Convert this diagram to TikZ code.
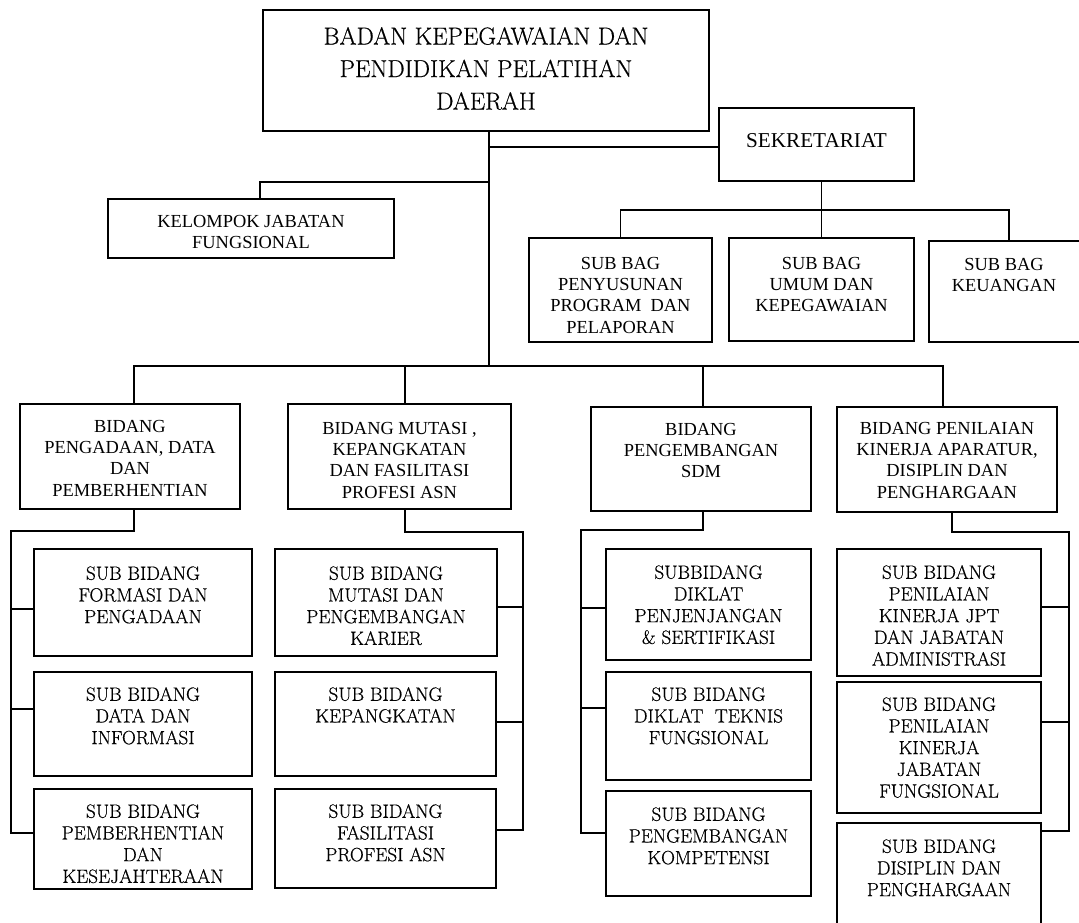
\documentclass[tikz,border=0pt]{standalone}
\usepackage{fontspec}
\newfontfamily\tnr{Liberation Serif}
\newfontfamily\lmh{Latin Modern Roman}[FakeBold=0.5]
\tikzset{
  ubox/.style={draw, line width=1.4pt, rectangle, inner sep=0pt, outer sep=0pt},
  lmt/.style={align=center, inner sep=0pt, font=\lmh\fontsize{19.2pt}{21.7pt}\selectfont},
  tnt/.style={align=center, inner sep=0pt, font=\tnr\fontsize{18.4pt}{21.3pt}\selectfont},
  toptxt/.style={align=center, inner sep=0pt, font=\lmh\fontsize{24.5pt}{32.5pt}\selectfont},
  sektxt/.style={align=center, inner sep=0pt, font=\tnr\fontsize{21.2pt}{24pt}\selectfont},
  conn/.style={line width=1.3pt},
}
\newcommand\ubox[5]{\node[ubox, minimum width={(#4-#2)*1pt}, minimum height={(#5-#3)*1pt}] (#1) at ({(#2+#4)/2},{(#3+#5)/2}) {};}
\newcommand\utxt[4]{\node[#2, anchor=north] (#1t) at (#1.north |- 0,#3) {#4};}
\begin{document}
\begin{tikzpicture}[x=1pt, y=-1pt]
\useasboundingbox (0,0) rectangle (1079,923);
% boxes
\ubox{top}{263}{10}{709}{131}
\ubox{sek}{719}{108}{914}{181}
\ubox{kel}{108}{199}{394}{258}
\ubox{sb1}{529}{238}{712}{342}
\ubox{sb2}{729}{238}{914}{341}
\ubox{sb3}{929}{241}{1089}{342}
\ubox{bid1}{20}{404}{240}{509}
\ubox{bid2}{288}{404}{511}{509}
\ubox{bid3}{591}{407}{811}{511}
\ubox{bid4}{837}{407}{1057}{512}
\ubox{s11}{34}{549}{252}{656}
\ubox{s12}{34}{672}{252}{776}
\ubox{s13}{34}{789}{252}{889}
\ubox{s21}{275}{549}{497}{656}
\ubox{s22}{275}{672}{496}{776}
\ubox{s23}{275}{789}{496}{888}
\ubox{s31}{606}{549}{811}{660}
\ubox{s32}{606}{672}{811}{780}
\ubox{s33}{606}{791}{811}{896}
\ubox{s41}{837}{549}{1041}{676}
\ubox{s42}{837}{682}{1041}{813}
\ubox{s43}{837}{823}{1041}{930}
% texts
\utxt{top}{toptxt}{27}{BADAN KEPEGAWAIAN DAN\\PENDIDIKAN PELATIHAN\\DAERAH}
\utxt{sek}{sektxt}{133}{SEKRETARIAT}
\utxt{kel}{tnt}{215}{KELOMPOK JABATAN\\FUNGSIONAL}
\utxt{sb1}{tnt}{257}{SUB BAG\\PENYUSUNAN\\PROGRAM\ \ DAN\\PELAPORAN}
\utxt{sb2}{tnt}{257}{SUB BAG\\UMUM DAN\\KEPEGAWAIAN}
\node[tnt, anchor=north] (sb3t) at (1004,258) {SUB BAG\\KEUANGAN};
\utxt{bid1}{tnt}{420}{BIDANG\\PENGADAAN, DATA\\DAN\\PEMBERHENTIAN}
\utxt{bid2}{tnt}{422}{BIDANG MUTASI ,\\KEPANGKATAN\\DAN FASILITASI\\PROFESI ASN}
\utxt{bid3}{tnt}{423}{BIDANG\\PENGEMBANGAN\\SDM}
\utxt{bid4}{tnt}{422}{BIDANG PENILAIAN\\KINERJA APARATUR,\\DISIPLIN DAN\\PENGHARGAAN}
\utxt{s11}{lmt}{566}{SUB BIDANG\\FORMASI DAN\\PENGADAAN}
\utxt{s12}{lmt}{687}{SUB BIDANG\\DATA DAN\\INFORMASI}
\utxt{s13}{lmt}{804}{SUB BIDANG\\PEMBERHENTIAN\\DAN\\KESEJAHTERAAN}
\utxt{s21}{lmt}{566}{SUB BIDANG\\MUTASI DAN\\PENGEMBANGAN\\KARIER}
\utxt{s22}{lmt}{687}{SUB BIDANG\\KEPANGKATAN}
\utxt{s23}{lmt}{804}{SUB BIDANG\\FASILITASI\\PROFESI ASN}
\utxt{s31}{lmt}{565}{SUBBIDANG\\DIKLAT\\PENJENJANGAN\\\& SERTIFIKASI}
\utxt{s32}{lmt}{687}{SUB BIDANG\\DIKLAT\ \ TEKNIS\\FUNGSIONAL}
\utxt{s33}{lmt}{807}{SUB BIDANG\\PENGEMBANGAN\\KOMPETENSI}
\utxt{s41}{lmt}{565}{SUB BIDANG\\PENILAIAN\\KINERJA JPT\\DAN JABATAN\\ADMINISTRASI}
\utxt{s42}{lmt}{697}{SUB BIDANG\\PENILAIAN\\KINERJA\\JABATAN\\FUNGSIONAL}
\utxt{s43}{lmt}{839}{SUB BIDANG\\DISIPLIN DAN\\PENGHARGAAN}
% connectors
\coordinate (bus) at (489,366);
\coordinate (kj) at (489,182);
\coordinate (sj) at (822,210);
\coordinate (c1) at (11,531);
\coordinate (c2) at (523,532);
\coordinate (c3) at (581,530);
\coordinate (c4) at (1069,532);
\draw[conn] (top.south -| bus) -- (bus);
\draw[conn] ([yshift=-2.5pt]sek.west) -- ([yshift=-2.5pt]sek.west -| bus);
\draw[conn] (kj) -| ([xshift=9pt]kel.north);
\draw[conn] (sb2.north |- sek.south) -- (sb2.north);
\draw[conn] (sb1.north) |- (sj) -| (sb3.north);
\draw[conn] ([xshift=4pt]bid1.north) |- ([xshift=-4pt]bid4.north |- bus) -- ([xshift=-4pt]bid4.north);
\draw[conn] ([xshift=5.5pt]bid2.north) -- ([xshift=5.5pt]bid2.north |- bus);
\draw[conn] ([xshift=2pt]bid3.north) -- ([xshift=2pt]bid3.north |- bus);
% column 1
\draw[conn] ([xshift=4pt]bid1.south) |- (c1) |- ([yshift=6pt]s13.west);
\draw[conn] ([yshift=-6.5pt]s11.west) -- ([yshift=-6.5pt]s11.west -| c1);
\draw[conn] ([yshift=15pt]s12.west) -- ([yshift=15pt]s12.west -| c1);
% column 2
\draw[conn] ([xshift=5.5pt]bid2.south) |- (c2) |- ([yshift=8.5pt]s23.east);
\draw[conn] ([yshift=-4.5pt]s21.east) -- ([yshift=-4.5pt]s21.east -| c2);
\draw[conn] ([yshift=2pt]s22.east) -- ([yshift=2pt]s22.east -| c2);
% column 3
\draw[conn] ([xshift=2pt]bid3.south) |- (c3) |- ([yshift=10.5pt]s33.west);
\draw[conn] ([yshift=-3.5pt]s31.west) -- ([yshift=-3.5pt]s31.west -| c3);
\draw[conn] ([yshift=18pt]s32.west) -- ([yshift=18pt]s32.west -| c3);
% column 4
\draw[conn] ([xshift=5pt]bid4.south) |- (c4) |- ([yshift=45.5pt]s43.east);
\draw[conn] ([yshift=5.5pt]s41.east) -- ([yshift=5.5pt]s41.east -| c4);
\draw[conn] ([yshift=25.5pt]s42.east) -- ([yshift=25.5pt]s42.east -| c4);
\end{tikzpicture}
\end{document}
